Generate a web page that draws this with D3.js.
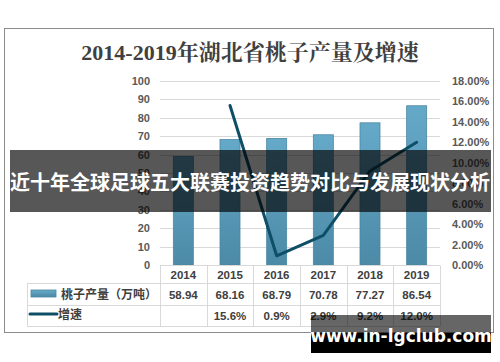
<!DOCTYPE html>
<html>
<head>
<meta charset="utf-8">
<script src="https://d3js.org/d3.v7.min.js"></script>
<style>
  body { margin: 0; background: #fff; }
  svg { display: block; }
</style>
</head>
<body>
<svg width="500" height="362"></svg>
<script>
// data
var years = ["2014", "2015", "2016", "2017", "2018", "2019"];
var output = [58.94, 68.16, 68.79, 70.78, 77.27, 86.54];
var growth = [null, 15.6, 0.9, 2.9, 9.2, 12.0];
var leftTicks = [0, 10, 20, 30, 40, 50, 60, 70, 80, 90, 100];
var rightTicks = [0, 2, 4, 6, 8, 10, 12, 14, 16, 18];
var title = "2014-2019年湖北省桃子产量及增速";
var seriesNames = ["桃子产量（万吨）", "增速"];
var banner = "近十年全球足球五大联赛投资趋势对比与发展现状分析";
var mark = "www.in-lgclub.com";

var svg = d3.select("svg");
var x = d3.scaleBand().domain(years).range([160, 440]);
var y = d3.scaleLinear().domain([0, 100]).range([265, 81]);
var y2 = d3.scaleLinear().domain([0, 18]).range([265, 81]);

var defs = svg.append("defs");
var g = defs.append("linearGradient").attr("id", "bar").attr("x1", 0).attr("y1", 0).attr("x2", 0).attr("y2", 1);
g.append("stop").attr("offset", "0%").attr("stop-color", "#65a9c9");
g.append("stop").attr("offset", "100%").attr("stop-color", "#4c8aa6");
var g2 = defs.append("linearGradient").attr("id", "sw").attr("x1", 0).attr("y1", 0).attr("x2", 0).attr("y2", 1);
g2.append("stop").attr("offset", "0%").attr("stop-color", "#6aaccb");
g2.append("stop").attr("offset", "100%").attr("stop-color", "#4a88a4");

// frame
svg.append("rect").attr("x", 4.5).attr("y", 28.5).attr("width", 489).attr("height", 304)
  .attr("fill", "#fff").attr("stroke", "#8c8c8c").attr("stroke-width", 1);

svg.append("text").attr("x", 250).attr("y", 60).attr("text-anchor", "middle")
  .attr("font-family", "'Liberation Serif','Noto Serif CJK SC','Noto Sans CJK SC',serif")
  .attr("font-size", 22).attr("font-weight", "bold").attr("fill", "#404040")
  .text(title);

// grid
svg.append("g").selectAll("line").data(leftTicks).join("line")
  .attr("x1", 160).attr("x2", 440)
  .attr("y1", d => Math.round(y(d)) + 0.5).attr("y2", d => Math.round(y(d)) + 0.5)
  .attr("stroke", "#d9d9d9");

var lab = { "font-family": "'Liberation Sans','DejaVu Sans',sans-serif", "font-size": 11, "font-weight": "bold", "fill": "#595959" };
function styl(sel, o) { for (var k in o) sel.attr(k, o[k]); return sel; }

styl(svg.append("g").selectAll("text").data(leftTicks).join("text")
  .attr("x", 150).attr("y", d => y(d) + 4).attr("text-anchor", "end")
  .text(d => d), lab);

styl(svg.append("g").selectAll("text").data(rightTicks).join("text")
  .attr("x", 452).attr("y", d => y2(d) + 4)
  .text(d => d.toFixed(2) + "%"), lab);

// bars
var bw = 20;
svg.append("g").selectAll("rect").data(output).join("rect")
  .attr("x", (d, i) => x(years[i]) + x.bandwidth() / 2 - bw / 2)
  .attr("y", d => y(d))
  .attr("width", bw)
  .attr("height", d => y(0) - y(d))
  .attr("fill", "url(#bar)")
  .attr("stroke", "#4a87a3").attr("stroke-width", 0.8);

// line
var pts = growth.map((d, i) => [years[i], d]).filter(d => d[1] != null);
svg.append("path").datum(pts)
  .attr("d", d3.line().x(d => x(d[0]) + x.bandwidth() / 2).y(d => y2(d[1])))
  .attr("fill", "none").attr("stroke", "#0e4e66").attr("stroke-width", 3)
  .attr("stroke-linecap", "round").attr("stroke-linejoin", "round");

// data table
var rows = [265.5, 283.5, 305.5, 326.5];
var tbl = svg.append("g").attr("stroke", "#d9d9d9").attr("stroke-width", 1);
tbl.append("line").attr("x1", 160).attr("x2", 440).attr("y1", rows[0]).attr("y2", rows[0]);
rows.slice(1).forEach(function (r) {
  tbl.append("line").attr("x1", 27).attr("x2", 440).attr("y1", r).attr("y2", r);
});
years.concat(["end"]).forEach(function (yr, i) {
  var xx = Math.round(160 + i * x.bandwidth()) + 0.5;
  tbl.append("line").attr("x1", xx).attr("x2", xx).attr("y1", rows[0]).attr("y2", rows[3]);
});
tbl.append("line").attr("x1", 27.5).attr("x2", 27.5).attr("y1", rows[1]).attr("y2", rows[3]);

var cell = { "font-family": "'Liberation Sans','DejaVu Sans',sans-serif", "font-size": 11.5, "font-weight": "bold", "fill": "#404040", "text-anchor": "middle" };
styl(svg.append("g").selectAll("text").data(years).join("text")
  .attr("x", d => x(d) + x.bandwidth() / 2).attr("y", 279).text(d => d), cell);
styl(svg.append("g").selectAll("text").data(output).join("text")
  .attr("x", (d, i) => x(years[i]) + x.bandwidth() / 2).attr("y", 299).text(d => d.toFixed(2)), cell);
styl(svg.append("g").selectAll("text").data(growth).join("text")
  .attr("x", (d, i) => x(years[i]) + x.bandwidth() / 2).attr("y", 320)
  .text(d => d == null ? "" : d.toFixed(1) + "%"), cell);

// legend in table
svg.append("rect").attr("x", 31).attr("y", 290).attr("width", 25).attr("height", 7)
  .attr("fill", "url(#sw)").attr("stroke", "#4a87a3").attr("stroke-width", 0.8);
svg.append("line").attr("x1", 30).attr("x2", 57).attr("y1", 314).attr("y2", 314)
  .attr("stroke", "#0e4e66").attr("stroke-width", 3).attr("stroke-linecap", "round");
var leg = { "font-family": "'Noto Sans CJK SC',sans-serif", "font-size": 12, "font-weight": "bold", "fill": "#404040" };
styl(svg.append("text").attr("x", 61).attr("y", 299).text(seriesNames[0]), leg);
styl(svg.append("text").attr("x", 58).attr("y", 319).text(seriesNames[1]), leg);

// overlays
svg.append("rect").attr("x", 10).attr("y", 150).attr("width", 481).attr("height", 62)
  .attr("fill", "#000").attr("fill-opacity", 0.66);
svg.append("text").attr("x", 250).attr("y", 190).attr("text-anchor", "middle")
  .attr("font-family", "'Noto Sans CJK SC',sans-serif").attr("font-size", 20)
  .attr("font-weight", "bold").attr("fill", "#fff")
  .text(banner);

svg.append("rect").attr("x", 311).attr("y", 315).attr("width", 180).attr("height", 18)
  .attr("fill", "#000").attr("fill-opacity", 0.6);
svg.append("rect").attr("x", 311).attr("y", 333).attr("width", 180).attr("height", 20)
  .attr("fill", "#000");
svg.append("text").attr("x", 401).attr("y", 342).attr("text-anchor", "middle")
  .attr("font-family", "'DejaVu Sans',sans-serif").attr("font-size", 17)
  .attr("font-weight", "bold").attr("fill", "#fff")
  .text(mark);
</script>
</body>
</html>
